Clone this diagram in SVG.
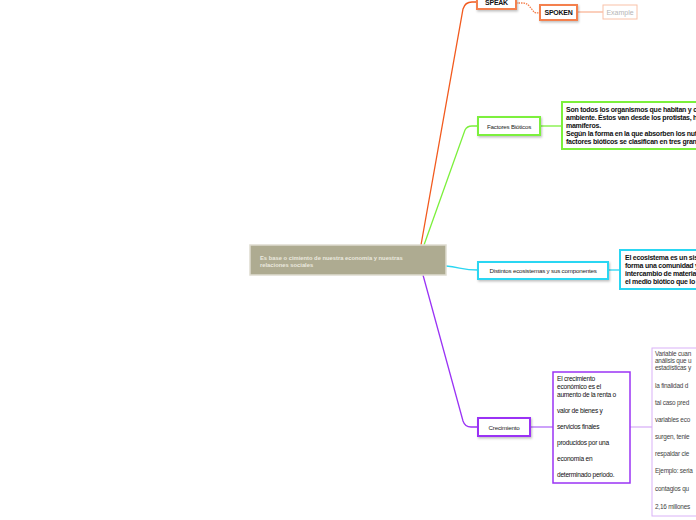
<svg xmlns="http://www.w3.org/2000/svg" width="696" height="520" viewBox="0 0 696 520">
<defs>
<filter id="sh" x="-10%" y="-20%" width="130%" height="160%"><feDropShadow dx="1" dy="1.5" stdDeviation="0.8" flood-color="#000" flood-opacity="0.25"/></filter>
</defs>
<style>
text{font-family:"Liberation Sans",Arial,sans-serif;}
.b{font-weight:bold;}
.t{font-size:6.6px;letter-spacing:-0.25px;fill:#111;}
.tb{font-size:7px;font-weight:bold;letter-spacing:-0.25px;fill:#111;}
.lbl{font-size:6.2px;letter-spacing:-0.2px;fill:#222;text-anchor:middle;}
.node{fill:#fff;stroke-width:2;filter:url(#sh);}
.conn{fill:none;stroke-width:1.3;}
</style>
<rect width="696" height="520" fill="#fff"/>
<g id="connectors">
<path class="conn" stroke="#f25a1e" d="M421 245 L463 9 Q465 2 472 2 L477 2"/>
<path class="conn" stroke="#7cf03c" d="M424 245 L465 130 Q467 126 472 126 L478 126"/>
<path class="conn" stroke="#2ad6f2" d="M446 266 C460 267 462 270 478 270"/>
<path class="conn" stroke="#9a33f5" d="M423 275 L463 421 Q465 427 471 427 L478 427"/>
<path class="conn" stroke="#f4804e" stroke-dasharray="1.5 1" d="M516 3 L523 3 Q527 3 530 7 L534 12 Q535 13 540 13"/>
<path class="conn" stroke="#f9b598" d="M577 12 L603 12"/>
<path class="conn" stroke="#7cf03c" d="M540 126 L562 126"/>
<path class="conn" stroke="#2ad6f2" d="M608 270 L620 270"/>
<path class="conn" stroke="#b06ef7" d="M530 427 L553 427"/>
<path class="conn" stroke="#d9b2f7" d="M630 427 L652 427"/>
</g>
<g id="central">
<rect x="250" y="245" width="196" height="30" fill="#aeab91" stroke="#dedcd0" stroke-width="1.5"/>
<text class="b" x="260" y="259.5" font-size="5.8" fill="#ebe9df">Es base  o cimiento  de nuestra economía y nuestras</text>
<text class="b" x="260" y="266.5" font-size="5.8" fill="#ebe9df">relaciones sociales</text>
</g>
<g id="speak">
<rect class="node" x="477" y="-6" width="39" height="15" stroke="#f4804e"/>
<text class="tb" x="496.5" y="4.5" text-anchor="middle">SPEAK</text>
</g>
<g id="spoken">
<rect class="node" x="540" y="5" width="37" height="15" stroke="#f4804e"/>
<text class="tb" x="558.5" y="15" text-anchor="middle">SPOKEN</text>
</g>
<g id="example">
<rect x="603" y="5" width="34" height="14" fill="#fff" stroke="#f9c2a8" stroke-width="1"/>
<text x="620" y="14.5" font-size="7" fill="#b5b5b5" text-anchor="middle">Example</text>
</g>
<g id="factores">
<rect class="node" x="478" y="117" width="62" height="18" stroke="#7cf03c"/>
<text class="lbl" x="509" y="128.5">Factores Bióticos</text>
</g>
<g id="factores-text">
<rect x="562" y="102" width="140" height="47" fill="#fff" stroke="#7cf03c" stroke-width="2"/>
<text class="tb" x="566" y="112">Son todos los organismos que habitan y co</text>
<text class="tb" x="566" y="120">ambiente. Éstos van desde los protistas, h</text>
<text class="tb" x="566" y="128">mamíferos.</text>
<text class="tb" x="566" y="136">Según la forma en la que absorben los nut</text>
<text class="tb" x="566" y="144">factores bióticos se clasifican en tres gran</text>
</g>
<g id="ecosistemas">
<rect class="node" x="478" y="262" width="130" height="17" stroke="#2ad6f2"/>
<text class="lbl" x="543" y="272.5">Distintos ecosistemas y sus componentes</text>
</g>
<g id="ecosistemas-text">
<rect x="620" y="250" width="82" height="39" fill="#fff" stroke="#2ad6f2" stroke-width="2"/>
<text class="tb" x="625" y="260">El ecosistema es un sis</text>
<text class="tb" x="625" y="268">forma una comunidad y</text>
<text class="tb" x="625" y="276">intercambio de materia</text>
<text class="tb" x="625" y="284">el medio biótico que lo r</text>
</g>
<g id="crecimiento">
<rect class="node" x="478" y="418" width="52" height="18" stroke="#9a33f5"/>
<text class="lbl" x="504" y="429.5" font-size="6.6">Crecimiento</text>
</g>
<g id="crecimiento-text">
<rect x="553" y="372" width="77" height="111" fill="#fff" stroke="#9a33f5" stroke-width="1.5"/>
<text class="t" x="557" y="381">El crecimiento</text>
<text class="t" x="557" y="389">económico es el</text>
<text class="t" x="557" y="397">aumento de la renta o</text>
<text class="t" x="557" y="413">valor de bienes y</text>
<text class="t" x="557" y="429">servicios finales</text>
<text class="t" x="557" y="445">producidos por una</text>
<text class="t" x="557" y="461">economía en</text>
<text class="t" x="557" y="477">determinado periodo.</text>
</g>
<g id="variable-text">
<rect x="652" y="348" width="60" height="168" fill="#fff" stroke="#d9b2f7" stroke-width="1"/>
<g font-size="6.4" fill="#444" letter-spacing="-0.2">
<text x="655" y="356">Variable cuan</text>
<text x="655" y="363">análisis que u</text>
<text x="655" y="370">estadísticas y</text>
<text x="655" y="388">la finalidad d</text>
<text x="655" y="405">tal caso pred</text>
<text x="655" y="422">variables eco</text>
<text x="655" y="439">surgen, tenie</text>
<text x="655" y="456">respaldar cie</text>
<text x="655" y="473">Ejemplo: seria</text>
<text x="655" y="491">contagios qu</text>
<text x="655" y="509">2,16 millones</text>
</g>
</g>
</svg>
